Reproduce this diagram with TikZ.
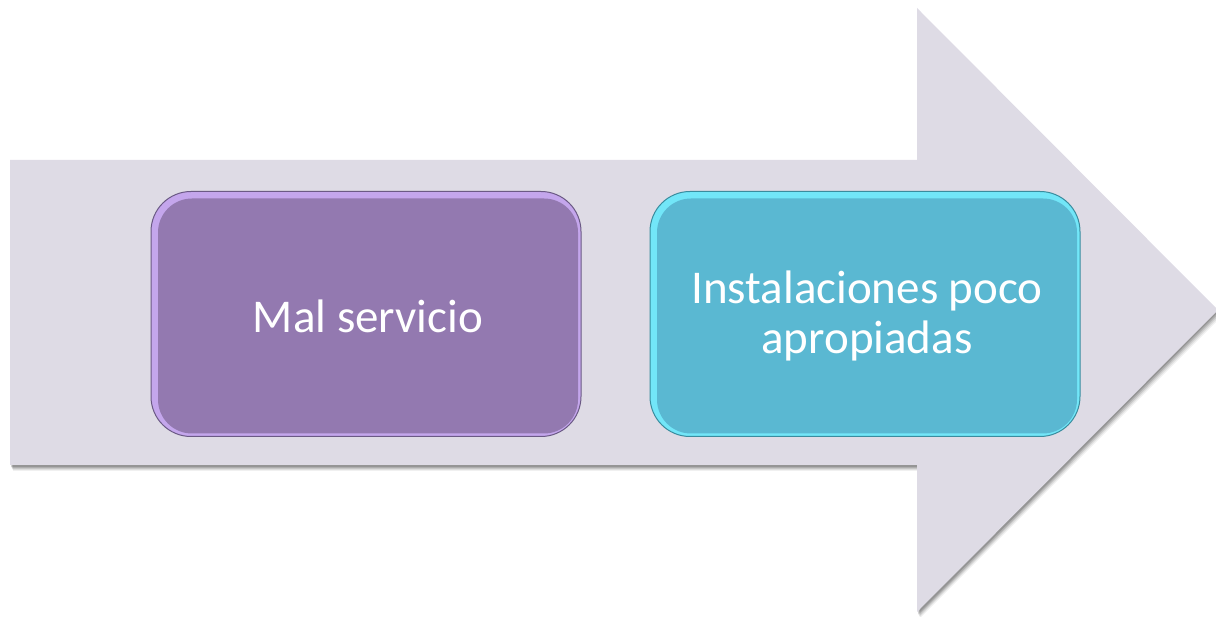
\documentclass[tikz,border=0pt]{standalone}
\usepackage{fontspec}
\setmainfont{Carlito}
\usetikzlibrary{calc}
\definecolor{arrowfill}{HTML}{DEDBE5}
\definecolor{purplefill}{HTML}{9379B0}
\definecolor{purplebevel}{HTML}{C4A6EC}
\definecolor{purpleline}{HTML}{6B5A85}
\definecolor{tealfill}{HTML}{5AB8D2}
\definecolor{tealbevel}{HTML}{72E6F8}
\definecolor{tealline}{HTML}{3A8C9E}
\tikzset{
  box/.style={rounded corners=40pt, line width=1pt, minimum width=430pt, minimum height=245pt, align=center, font=\fontsize{47}{50}\selectfont, text=white},
}
\begin{document}
\begin{tikzpicture}[x=1pt,y=-1pt]
\useasboundingbox (0,0) rectangle (1216,617);
\clip (0,0) rectangle (1216,617);
% arrow shadow
\foreach \o/\op in {6/0.06,5/0.08,4/0.1,3/0.12,2/0.14}{
  \fill[black,opacity=\op] (10+\o*0.5,160+\o) -- (917+\o*0.5,160+\o) -- (917+\o*0.5,8+\o) -- (1216+\o,310+\o) -- (917+\o*0.5,612+\o) -- (917+\o*0.5,465+\o) -- (10+\o*0.5,465+\o) -- cycle;
}
\fill[arrowfill] (10,160) coordinate (a1) -- (917,160) -- (917,8) -- (1218,310) -- (917,612) -- (917,465) -- (10,465) -- cycle;
% boxes
\node[box, draw=purpleline, fill=purplebevel] (b1o) at (366,314) {};
\node[box, fill=purplefill, minimum width=420pt, minimum height=235pt, rounded corners=34pt] (b1) at (368,316) {Mal servicio};
\node[box, draw=tealline, fill=tealbevel] (b2o) at (865,314) {};
\node[box, fill=tealfill, minimum width=420pt, minimum height=235pt, rounded corners=34pt] (b2) at (867,316) {Instalaciones poco\\apropiadas};
\end{tikzpicture}
\end{document}
